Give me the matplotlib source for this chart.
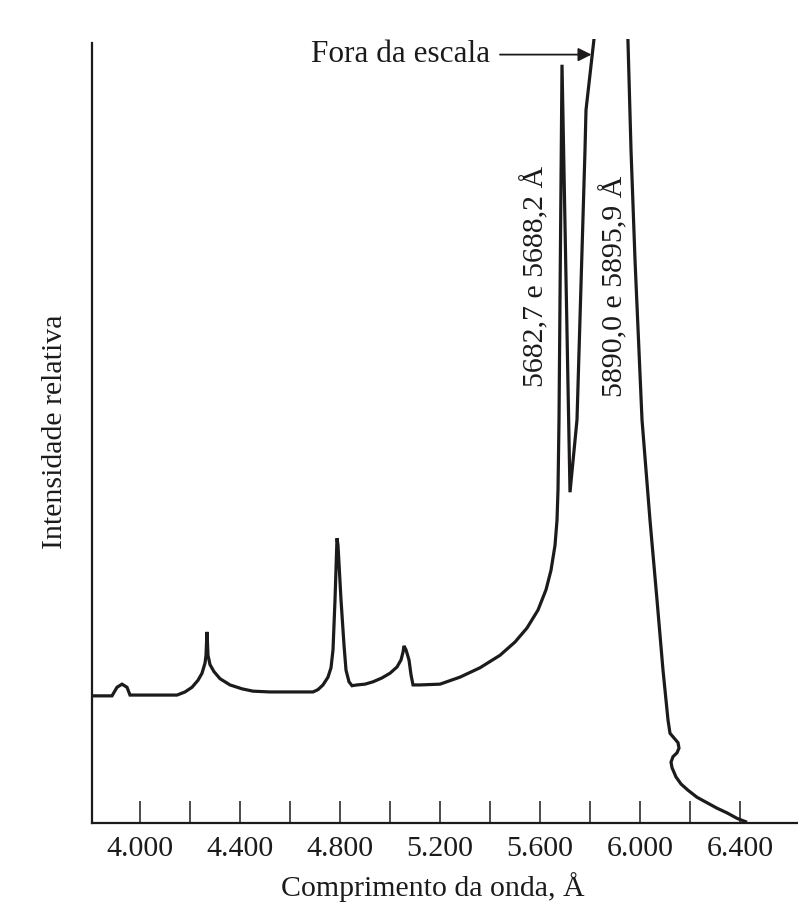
import numpy as np
import matplotlib
matplotlib.use("Agg")
from matplotlib import pyplot as plt

# Emission spectrum of a sodium vapour lamp (relative intensity, arbitrary units)
# the D lines near 5890 A go off scale, hence the 160 value which gets clipped
wavelength = [3808, 3888, 3908, 3928, 3948, 3960, 4148, 4180, 4208, 4232,
              4248, 4260, 4264, 4268, 4272, 4280, 4296, 4320, 4360, 4408,
              4452, 4520, 4692, 4712, 4732, 4752, 4764, 4772, 4780, 4788,
              4792, 4804, 4816, 4824, 4836, 4848, 4868, 4900, 4932, 4968,
              5000, 5028, 5044, 5052, 5056, 5064, 5076, 5084, 5092, 5120,
              5200, 5280, 5360, 5440, 5500, 5548, 5592, 5624, 5644, 5660,
              5668, 5672, 5676, 5680, 5688, 5720, 5748, 5780, 5784, 5816,
              5884, 5952, 5964, 5980, 6008, 6040, 6068, 6092, 6112, 6120,
              6136, 6152, 6156, 6148, 6132, 6124, 6128, 6144, 6164, 6192,
              6228, 6268, 6308, 6348, 6388, 6428]
intensity = [16.3, 16.3, 17.4, 17.8, 17.4, 16.4, 16.4, 16.8, 17.4, 18.3,
             19.2, 20.5, 21.5, 24.5, 21.5, 20.3, 19.4, 18.5, 17.7, 17.2,
             16.9, 16.8, 16.8, 17.1, 17.7, 18.7, 19.9, 22.2, 28.6, 36.5,
             35.6, 28.6, 22.8, 19.6, 18.1, 17.6, 17.7, 17.8, 18.1, 18.6,
             19.2, 20.0, 20.9, 21.9, 22.7, 22.2, 20.9, 19.0, 17.7, 17.7,
             17.8, 18.7, 19.9, 21.5, 23.2, 25.0, 27.3, 29.9, 32.4, 35.6,
             38.8, 42.7, 51.7, 67.1, 97.2, 42.4, 51.7, 86.3, 91.4, 100.5,
             160.0, 100.1, 86.3, 72.2, 51.7, 38.8, 28.6, 19.6, 13.2, 11.5,
             10.9, 10.3, 9.6, 9.0, 8.5, 7.8, 7.1, 5.9, 5.0, 4.2,
             3.3, 2.6, 1.9, 1.3, 0.6, 0.1]

tick_values = np.arange(4000, 6401, 200)
tick_labels = ["4.000", "", "4.400", "", "4.800", "", "5.200", "",
               "5.600", "", "6.000", "", "6.400"]

ink = "#1c1a1a"
font = ["Liberation Serif", "DejaVu Serif"]
fs = 21.5

fig = plt.figure(figsize=(7.98, 9.09), dpi=100)
ax = fig.add_axes([0.1153, 0.0946, 0.8847, 0.8625])

ax.plot(wavelength, intensity, color=ink, lw=2.3, solid_joinstyle="miter",
        solid_capstyle="butt")

ax.set_xlim(3808, 6632)
ax.set_ylim(0, 100.5)

for side in ["top", "right"]:
    ax.spines[side].set_visible(False)
ax.spines["left"].set_bounds(0, 100)
ax.spines["left"].set_linewidth(1.6)
ax.spines["bottom"].set_linewidth(1.6)
ax.spines["left"].set_color(ink)
ax.spines["bottom"].set_color(ink)

ax.set_yticks([])
ax.set_xticks(tick_values)
ax.set_xticklabels(tick_labels, fontfamily=font, fontsize=fs, color=ink)
ax.tick_params(axis="x", direction="in", length=16, width=1.1, color=ink, pad=9)

fig.text(433 / 798, 1 - 887 / 909, "Comprimento da onda, Å", ha="center",
         va="center", fontfamily=font, fontsize=fs, color=ink)
fig.text(55 / 798, 1 - 432 / 909, "Intensidade relativa", ha="center",
         va="center", rotation=90, fontfamily=font, fontsize=fs, color=ink)

# Line labels
ax.text(5580, 70.0, "5682,7 e 5688,2 Å", rotation=90, ha="center", va="center",
        fontfamily=font, fontsize=fs, color=ink)
ax.text(5896, 68.8, "5890,0 e 5895,9 Å", rotation=90, ha="center", va="center",
        fontfamily=font, fontsize=fs, color=ink)

# Off-scale marker
ax.annotate("", xy=(5806, 98.5), xytext=(5440, 98.5), annotation_clip=False,
            arrowprops=dict(arrowstyle="-|>", color=ink, lw=1.3,
                            mutation_scale=20, shrinkA=0, shrinkB=0))
ax.text(5400, 98.5, "Fora da escala", ha="right", va="center",
        fontfamily=font, fontsize=22.5, color=ink)

fig.savefig("out.png", dpi=100)
